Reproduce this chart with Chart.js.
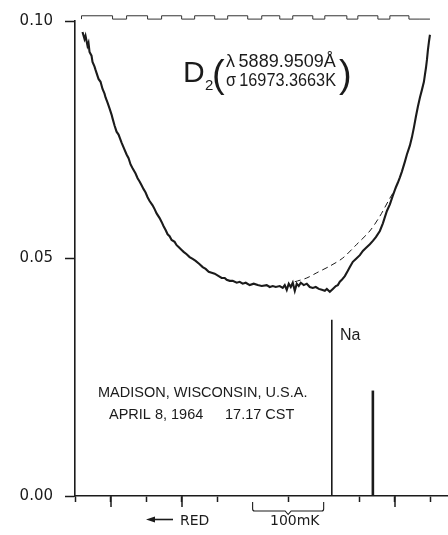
<!DOCTYPE html>
<html>
<head>
<meta charset="utf-8">
<script src="https://cdn.jsdelivr.net/npm/chart.js@4.4.1/dist/chart.umd.min.js"></script>
<style>
html,body{margin:0;padding:0;background:#fff;}
canvas{display:block;}
</style>
</head>
<body>
<canvas id="c" width="448" height="535"></canvas>
<script>
// x in scale divisions (1 division = 50 mK), y in the plotted intensity units
const profileX = [0.211,0.268,0.296,0.352,0.380,0.409,0.465,0.493,0.550,0.578,0.662,0.719,0.775,0.831,0.860,0.916,0.972,1.029,1.057,1.113,1.170,1.226,1.311,1.367,1.452,1.508,1.564,1.621,1.705,1.762,1.818,1.874,1.931,1.987,2.043,2.100,2.184,2.241,2.297,2.382,2.438,2.494,2.551,2.607,2.663,2.720,2.804,2.861,2.917,3.002,3.058,3.143,3.227,3.312,3.396,3.509,3.594,3.678,3.763,3.847,3.932,4.045,4.129,4.214,4.270,4.355,4.439,4.552,4.636,4.721,4.806,4.918,5.031,5.144,5.257,5.397,5.482,5.567,5.651,5.764,5.848,5.905,5.961,6.017,6.074,6.130,6.187,6.243,6.299,6.356,6.440,6.525,6.609,6.694,6.778,6.863,6.948,7.032,7.089,7.173,7.258,7.342,7.399,7.455,7.511,7.596,7.680,7.737,7.821,7.906,8.019,8.103,8.188,8.300,8.385,8.470,8.582,8.667,8.723,8.780,8.864,8.949,9.033,9.090,9.146,9.202,9.287,9.343,9.428,9.484,9.541,9.597,9.653,9.710,9.766,9.822,9.851,9.879,9.907,9.935,9.963,9.992];
const profileY = [0.0977,0.0962,0.0969,0.0948,0.0954,0.0935,0.0927,0.0914,0.0904,0.0897,0.0878,0.0872,0.0857,0.0847,0.0839,0.0828,0.0816,0.0803,0.0795,0.0780,0.0767,0.0761,0.0744,0.0734,0.0719,0.0711,0.0698,0.0690,0.0679,0.0669,0.0662,0.0654,0.0646,0.0639,0.0629,0.0621,0.0612,0.0604,0.0595,0.0585,0.0577,0.0568,0.0560,0.0551,0.0547,0.0539,0.0535,0.0528,0.0524,0.0518,0.0514,0.0509,0.0503,0.0499,0.0495,0.0488,0.0482,0.0478,0.0472,0.0470,0.0468,0.0463,0.0459,0.0459,0.0455,0.0453,0.0453,0.0449,0.0451,0.0447,0.0449,0.0444,0.0447,0.0444,0.0442,0.0444,0.0440,0.0442,0.0440,0.0442,0.0438,0.0444,0.0434,0.0447,0.0440,0.0449,0.0432,0.0447,0.0442,0.0449,0.0444,0.0447,0.0440,0.0438,0.0440,0.0436,0.0434,0.0432,0.0436,0.0430,0.0436,0.0442,0.0444,0.0451,0.0455,0.0463,0.0474,0.0482,0.0493,0.0499,0.0507,0.0516,0.0522,0.0530,0.0537,0.0545,0.0558,0.0574,0.0587,0.0600,0.0614,0.0633,0.0650,0.0660,0.0671,0.0683,0.0704,0.0719,0.0738,0.0755,0.0776,0.0799,0.0820,0.0839,0.0855,0.0872,0.0887,0.0901,0.0918,0.0939,0.0956,0.0971];
const continuumX = [6.187,6.525,6.807,7.173,7.539,7.934,8.300,8.582,8.864,9.033];
const continuumY = [0.0451,0.0459,0.0470,0.0484,0.0501,0.0530,0.0558,0.0589,0.0627,0.0648];
const lampX = [7.229,8.385];          // emission marks
const lampY = [0.0371,0.0222];
const markerX = [0.183,1.057,1.452,2.043,2.438,3.002,3.368,3.932,4.298,4.862,5.257,5.764,6.130,6.694,7.032,7.652,7.962,8.526,8.864,9.400,9.710,9.992];
const markerY = [0.1004,0.1011,0.1004,0.1011,0.1004,0.1011,0.1004,0.1011,0.1004,0.1011,0.1004,0.1011,0.1004,0.1011,0.1004,0.1011,0.1004,0.1011,0.1004,0.1011,0.1004,0.1004];
const yTickValues = [0, 0.05, 0.10];
const yTickLabels = ['0.00', '0.05', '0.10'];
const xTickValues = [0,1,2,3,4,5,6,7,8,9,10];
const xLongTicks = [1, 3, 9];
const scaleBar = [5, 7];  // 100 mK bracket ends (divisions)

const zip = (xs, ys) => xs.map((v, i) => ({x: v, y: ys[i]}));
const INK = '#1b1b1b';
const FONT = '"Liberation Sans", Arial, sans-serif';
const WIDE = '"DejaVu Sans", sans-serif';

const annot = {
  id: 'annot',
  afterDraw(chart) {
    const {ctx} = chart;
    const xs = chart.scales.x;
    const base = chart.chartArea.bottom;
    ctx.save();
    ctx.fillStyle = INK;
    ctx.strokeStyle = INK;
    ctx.textBaseline = 'alphabetic';
    ctx.textAlign = 'left';
    // longer ticks
    ctx.lineWidth = 1.5;
    xLongTicks.forEach(v => {
      const px = Math.round(xs.getPixelForValue(v));
      ctx.beginPath(); ctx.moveTo(px, base); ctx.lineTo(px, base + 11); ctx.stroke();
    });
    // D2 label
    ctx.font = '30px ' + FONT;
    ctx.fillText('D', 183, 82);
    ctx.font = '15px ' + FONT;
    ctx.fillText('2', 205, 90);
    ctx.font = '38px ' + FONT;
    ctx.fillText('(', 212, 87);
    ctx.fillText(')', 339, 87);
    ctx.font = '18px ' + FONT;
    ctx.fillText('\u03bb\u20095889.9509\u00c5', 226, 67, 110);
    ctx.fillText('\u03c3\u200916973.3663K', 226, 86, 110);
    // location
    ctx.font = '14.5px ' + FONT;
    ctx.fillText('MADISON, WISCONSIN, U.S.A.', 98, 397);
    ctx.fillText('APRIL 8, 1964', 109, 419);
    ctx.fillText('17.17 CST', 225, 419);
    // Na
    ctx.font = '16px ' + FONT;
    ctx.fillText('Na', 340, 340);
    // RED arrow and 100 mK
    ctx.font = '14px ' + WIDE;
    ctx.fillText('RED', 180, 525);
    ctx.fillText('100mK', 270, 525);
    ctx.lineWidth = 1.6;
    ctx.beginPath();
    ctx.moveTo(152, 519.5); ctx.lineTo(173, 519.5); ctx.stroke();
    ctx.beginPath();
    ctx.moveTo(146, 519.5); ctx.lineTo(155, 516.5); ctx.lineTo(155, 522.5); ctx.closePath(); ctx.fill();
    // bracket
    const b0 = xs.getPixelForValue(scaleBar[0]);
    const b1 = xs.getPixelForValue(scaleBar[1]);
    const bm = (b0 + b1) / 2;
    ctx.lineWidth = 1.1;
    ctx.beginPath();
    ctx.moveTo(b0, 502); ctx.lineTo(b0, 509); ctx.quadraticCurveTo(b0, 511, b0 + 2, 511);
    ctx.lineTo(bm - 3, 511); ctx.lineTo(bm, 514.5); ctx.lineTo(bm + 3, 511);
    ctx.lineTo(b1 - 2, 511); ctx.quadraticCurveTo(b1, 511, b1, 509); ctx.lineTo(b1, 502);
    ctx.stroke();
    ctx.restore();
  }
};

new Chart(document.getElementById('c'), {
  type: 'line',
  data: {
    datasets: [
      {data: zip(profileX, profileY), borderColor: INK, borderWidth: 2.1, pointRadius: 0, tension: 0},
      {data: zip(continuumX, continuumY), borderColor: INK, borderWidth: 1, borderDash: [6, 4], pointRadius: 0, tension: 0.3},
      {data: [{x: lampX[0], y: 0}, {x: lampX[0], y: lampY[0]}], borderColor: INK, borderWidth: 1.6, pointRadius: 0},
      {data: [{x: lampX[1], y: 0}, {x: lampX[1], y: lampY[1]}], borderColor: INK, borderWidth: 2.6, pointRadius: 0},
      {data: zip(markerX, markerY), borderColor: '#333', borderWidth: 1, pointRadius: 0, stepped: 'after', clip: false}
    ]
  },
  options: {
    responsive: false,
    animation: false,
    devicePixelRatio: 1,
    layout: {padding: {top: 19, right: 0, left: 0, bottom: 0}},
    plugins: {legend: {display: false}, tooltip: {enabled: false}},
    scales: {
      x: {
        type: 'linear', min: 0, max: 10.5,
        afterBuildTicks: s => { s.ticks = xTickValues.map(v => ({value: v})); },
        afterFit: s => { s.height = 39; },
        ticks: {display: false},
        grid: {
          drawOnChartArea: false, tickLength: 6, tickWidth: 1.5,
          tickColor: c => (c.tick && scaleBar.includes(c.tick.value)) ? 'rgba(0,0,0,0)' : INK
        },
        border: {color: INK, width: 1.6}
      },
      y: {
        type: 'linear', min: 0, max: 0.10,
        afterBuildTicks: s => { s.ticks = yTickValues.map(v => ({value: v})); },
        afterFit: s => { s.width = 75; },
        ticks: {
          color: INK, padding: 12,
          font: {family: WIDE, size: 15},
          callback: (v) => yTickLabels[yTickValues.indexOf(v)]
        },
        grid: {drawOnChartArea: false, tickLength: 10, tickWidth: 1.5, tickColor: INK},
        border: {color: INK, width: 1.6}
      }
    }
  },
  plugins: [annot]
});
</script>
</body>
</html>
